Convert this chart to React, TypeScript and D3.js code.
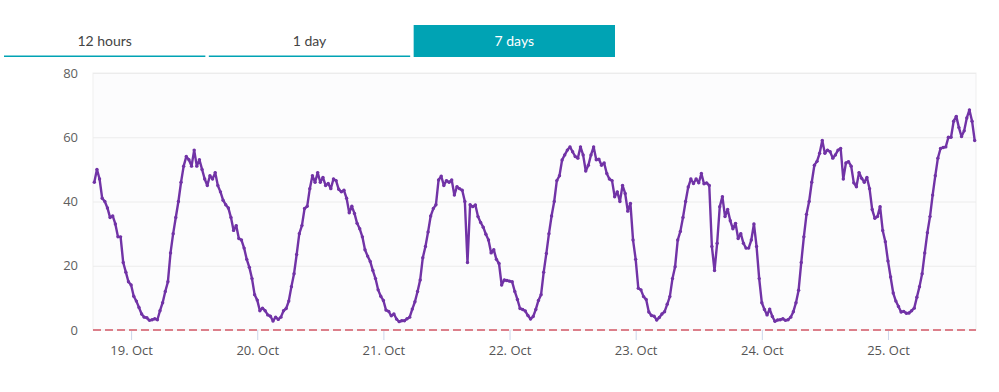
import { useEffect, useRef } from "react";
import * as d3 from "d3";

// Half-hourly readings, 17:00 one day → 16:30 the next
const fromOct18 = [46, 50, 47, 41, 40, 38, 35, 35.5, 33, 29, 29, 21, 18, 15, 14, 10.5, 9, 7, 5, 4, 3.8, 3, 3.2, 3.5, 3.2, 6, 8.5, 12, 15, 24, 30, 35, 40, 46, 51, 54, 53, 51, 56, 51, 53, 50, 47, 45, 48, 47, 49, 45];
const fromOct19 = [43, 40.4, 39, 38, 35, 31, 32.5, 28.5, 28, 25.5, 22, 19.5, 16, 11, 9.3, 6, 6.8, 6, 4.7, 4.3, 2.8, 4, 3.3, 4, 6, 6.7, 9, 13.5, 17.5, 23.5, 30, 32.5, 37.8, 38.5, 44, 48, 46, 49, 46, 47.5, 45, 45.6, 44, 47, 46.5, 43.8, 43, 43.5];
const fromOct20 = [41, 36.5, 38.5, 36.3, 33.2, 31.5, 29, 25, 23, 21.3, 18.5, 16, 12.5, 10.5, 9.2, 6.2, 5.8, 4.4, 5, 3.4, 2.6, 2.9, 2.9, 3.5, 4, 6.5, 8.8, 12, 15.6, 22.5, 26, 30.5, 35.5, 37.8, 39, 46.7, 47.9, 45, 46.5, 46, 46.7, 42, 44.6, 44, 43.5, 40, 21, 39];
const fromOct21 = [38.4, 38.9, 35.3, 33.5, 32, 29.8, 28, 24, 25, 22, 20.7, 14, 15.6, 15.4, 15.2, 15, 12, 9.5, 6.7, 6.4, 5.9, 4.5, 3.4, 4.2, 6.4, 9.2, 11, 18, 23.8, 30, 35.5, 40, 46.5, 48, 52.9, 54.5, 56, 57, 55.5, 54, 53.5, 57, 54.5, 49.5, 51.3, 54.5, 57, 53];
const fromOct22 = [53.2, 51.3, 52, 48.7, 47, 46.5, 41.5, 43, 40, 45, 42.5, 37, 39.4, 28, 22, 13, 12.5, 10.4, 9.5, 5.6, 4.5, 4.3, 3.1, 3.9, 5, 5.7, 8, 10.4, 16, 19.7, 28, 30.7, 35, 40, 44.5, 47, 45.6, 47, 45.8, 48.7, 45.5, 45.8, 45, 26, 18.5, 27, 38.4, 41.5];
const fromOct23 = [35.3, 37.5, 34, 31.5, 33.2, 28.5, 30, 27, 25.5, 25.5, 28, 33, 26, 16, 8.5, 6.4, 4.7, 6.5, 4.2, 2.7, 3.1, 3.2, 3.5, 3, 3.2, 4, 5.7, 8.5, 12.4, 21, 29, 36, 40, 46, 51.3, 52.5, 55, 59, 55, 56, 55.5, 53.5, 54.5, 56, 56.5, 47, 52, 52.4];
const fromOct24 = [51, 45.8, 44.6, 49, 47.2, 46, 47.5, 44, 37.5, 34.8, 35.3, 38.4, 31, 27.5, 21.5, 16.5, 11.5, 9, 7.3, 5.6, 5.8, 5.2, 5.3, 6, 6.8, 10.2, 13.5, 17.5, 24, 30.3, 35.3, 42, 48, 53.5, 56.5, 56.8, 57, 60, 60, 65, 66.5, 63, 60.2, 62, 66, 68.5, 65, 59];

const yTicks = [0, 20, 40, 60, 80];
const tabs = ["12 hours", "1 day", "7 days"];
const activeTab = "7 days";
const threshold = 0;

const W = 999, H = 392;
const margin = { top: 73, right: 23, bottom: 62, left: 93 };
const LINE = "#7133a6";
const TEAL = "#00a3b4";

export default function App() {
  const svgRef = useRef<SVGSVGElement>(null);

  useEffect(() => {
    if (!svgRef.current) return;
    const svg = d3.select(svgRef.current);
    svg.selectAll("*").remove();

    const start = new Date(2023, 9, 18, 17, 0);
    const values = [fromOct18, fromOct19, fromOct20, fromOct21, fromOct22, fromOct23, fromOct24].flat();
    const data = values.map((v, i) => ({ t: d3.timeMinute.offset(start, i * 30), v }));

    const x = d3.scaleTime()
      .domain([new Date(2023, 9, 18, 16, 45), new Date(2023, 9, 25, 16, 45)])
      .range([margin.left, W - margin.right]);
    const y = d3.scaleLinear().domain([0, 80]).range([H - margin.bottom, margin.top]);

    // --- Tabs ---
    const tabX = d3.scaleBand().domain(tabs).range([4, 615]).paddingInner(0.017);
    const tg = svg.append("g").selectAll("g").data(tabs).join("g")
      .attr("transform", (d) => `translate(${tabX(d)},0)`);
    tg.filter((d) => d === activeTab).append("rect")
      .attr("y", 25).attr("width", tabX.bandwidth()).attr("height", 32).attr("fill", TEAL);
    tg.filter((d) => d !== activeTab).append("rect")
      .attr("y", 55.5).attr("width", tabX.bandwidth()).attr("height", 1.5).attr("fill", TEAL);
    tg.append("text")
      .attr("x", tabX.bandwidth() / 2).attr("y", 46)
      .attr("text-anchor", "middle")
      .attr("font-family", "Lato, 'Open Sans', sans-serif").attr("font-size", "14px")
      .attr("fill", (d) => (d === activeTab ? "#fff" : "#444"))
      .text((d) => d);

    // --- Plot background ---
    svg.append("rect")
      .attr("x", margin.left).attr("y", margin.top)
      .attr("width", W - margin.left - margin.right)
      .attr("height", H - margin.top - margin.bottom)
      .attr("fill", "#fcfcfd").attr("stroke", "#efefef");

    // --- Y grid + labels ---
    const yg = svg.append("g");
    yg.selectAll("line").data(yTicks.filter((d) => d > 0)).join("line")
      .attr("x1", margin.left).attr("x2", W - margin.right)
      .attr("y1", (d) => y(d) + 0.5).attr("y2", (d) => y(d) + 0.5)
      .attr("stroke", "#ececec");
    yg.selectAll("text").data(yTicks).join("text")
      .attr("x", 78).attr("y", (d) => y(d)).attr("dy", "0.35em")
      .attr("text-anchor", "end")
      .attr("font-family", "'Open Sans', sans-serif").attr("font-size", "13px")
      .attr("fill", "#606060")
      .text((d) => d);

    // --- X axis ---
    const xAxis = svg.append("g")
      .attr("transform", `translate(0,${H - margin.bottom})`)
      .call(d3.axisBottom(x).ticks(d3.timeDay.every(1)).tickSize(10).tickPadding(6)
        .tickFormat((d) => d3.timeFormat("%-d. %b")(d as Date)));
    xAxis.select(".domain").remove();
    xAxis.selectAll(".tick line").attr("stroke", "#ccd6eb");
    xAxis.selectAll("text")
      .attr("font-family", "'Open Sans', sans-serif").attr("font-size", "13px")
      .attr("fill", "#555");

    // --- Threshold line ---
    svg.append("line")
      .attr("x1", margin.left).attr("x2", W - margin.right)
      .attr("y1", y(threshold)).attr("y2", y(threshold))
      .attr("stroke", "#dc7f8a").attr("stroke-width", 2)
      .attr("stroke-dasharray", "8,4");

    // --- Series ---
    const line = d3.line<{ t: Date; v: number }>().x((d) => x(d.t)).y((d) => y(d.v));
    svg.append("path").datum(data)
      .attr("d", line).attr("fill", "none")
      .attr("stroke", LINE).attr("stroke-width", 2.4).attr("stroke-linejoin", "round");
    svg.append("g").selectAll("circle").data(data).join("circle")
      .attr("cx", (d) => x(d.t)).attr("cy", (d) => y(d.v)).attr("r", 1.7)
      .attr("fill", LINE);
  }, []);

  return (
    <div style={{ position: "absolute", left: 0, top: 0, background: "#fff" }}>
      <svg ref={svgRef} width={W} height={H} />
    </div>
  );
}
